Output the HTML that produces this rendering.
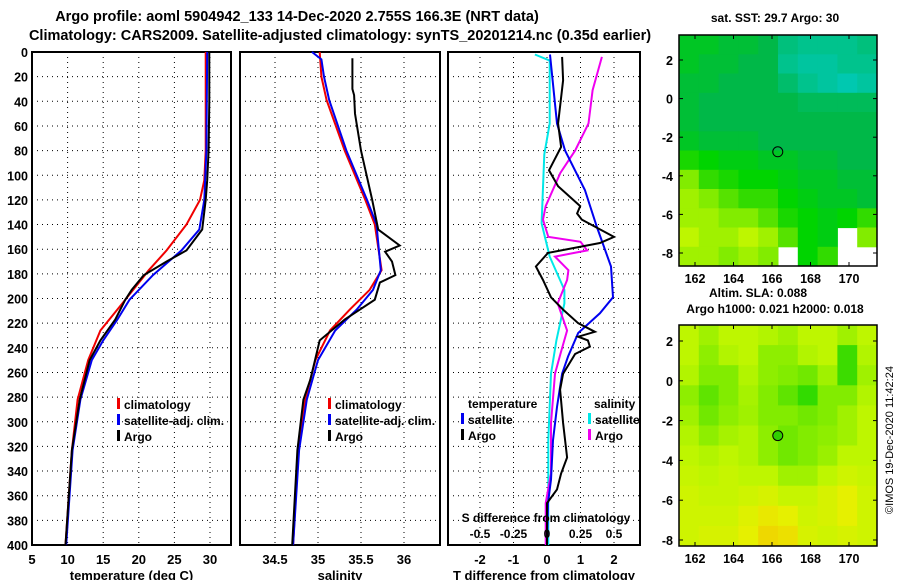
<!DOCTYPE html>
<html><head><meta charset="utf-8">
<style>
html,body{margin:0;padding:0;background:#fff;}
svg{display:block;font-family:"Liberation Sans",sans-serif;font-weight:bold;}
</style></head>
<body>
<svg id="chart" width="900" height="580" viewBox="0 0 900 580" xmlns="http://www.w3.org/2000/svg">
<text x="297" y="21" font-size="14.5" text-anchor="middle">Argo profile: aoml 5904942_133 14-Dec-2020 2.755S 166.3E (NRT data)</text>
<text x="340" y="40" font-size="14.5" text-anchor="middle">Climatology: CARS2009. Satellite-adjusted climatology: synTS_20201214.nc (0.35d earlier)</text>
<text x="775" y="22" font-size="12" text-anchor="middle">sat. SST: 29.7 Argo: 30</text>
<text x="758" y="297" font-size="12" text-anchor="middle">Altim. SLA: 0.088</text>
<text x="775" y="313" font-size="12" text-anchor="middle">Argo h1000: 0.021 h2000: 0.018</text>
<text x="0" y="0" font-size="11" font-weight="normal" text-anchor="middle" transform="translate(893,440) rotate(-90)">©IMOS 19-Dec-2020 11:42:24</text>
<g id="g"></g>
</svg>
<script>
// ---- data ----
const depthTicks=[0,20,40,60,80,100,120,140,160,180,200,220,240,260,280,300,320,340,360,380,400];
const tempTicks=[5,10,15,20,25,30];
const salTicks=[34.5,35,35.5,36];
const tdiffTicks=[-2,-1,0,1,2];
const sdiffTicks=[-0.5,-0.25,0,0.25,0.5];
const sdiffTickLabels=["-0.5","-0.25","0","0.25","0.5"];

const climTDepth=[0,80,104,120,140,161,177,201,226,250,282,323,400];
const climTVal=[29.4,29.4,29.2,28.6,26.7,23.9,21.4,18.1,14.6,12.9,11.4,10.6,9.7];
const satTDepth=[0,80,120,144,161,181,201,217,234,250,282,323,400];
const satTVal=[29.6,29.5,29.2,28.5,26,22,18.7,17,15,13.4,11.8,10.7,9.8];
const argoTDepth=[0,40,80,104,120,144,161,170,181,193,201,217,234,250,282,323,400];
const argoTVal=[29.9,29.9,29.8,29.6,29.4,28.9,26.7,23.9,20.7,19,18.1,16.7,14.6,13.1,11.7,10.6,9.7];

const climSDepth=[0,20,39,80,120,140,177,193,209,226,250,282,323,400];
const climSVal=[35.02,35.04,35.10,35.31,35.55,35.66,35.74,35.60,35.37,35.14,34.97,34.85,34.77,34.71];
const satSDepth=[0,6,20,39,80,120,140,177,193,209,226,250,282,323,400];
const satSVal=[34.93,35.04,35.07,35.13,35.33,35.57,35.68,35.73,35.64,35.45,35.2,35.0,34.87,34.78,34.71];
const argoSDepth=[5,30,35,50,80,120,144,157,162,170,181,187,201,217,234,266,282,323,400];
const argoSVal=[35.40,35.40,35.42,35.43,35.50,35.63,35.70,35.95,35.78,35.86,35.90,35.72,35.66,35.31,35.02,34.91,34.83,34.76,34.70];

const argoTdDepth=[4,23,58,77,96,109,125,131,136,150,155,163,174,185,199,209,220,227,231,234,239,245,261,274,301,329,342,355,366,400];
const argoTdVal=[0.45,0.48,0.33,0.42,0.06,0.33,0.99,0.90,1.04,2.0,1.58,0.03,-0.33,-0.12,0.12,0.48,0.93,1.43,0.93,1.22,1.28,0.84,0.48,0.39,0.48,0.60,0.42,0.30,0,0];
const satTdDepth=[2,58,80,112,142,174,199,212,228,247,261,288,315,347,366,400];
const satTdVal=[0.09,0.3,0.54,1.13,1.49,1.91,1.97,1.58,0.93,0.63,0.45,0.30,0.18,0.12,0.03,0];
const argoSdDepth=[4,31,58,80,98,125,136,150,154,161,166,177,185,204,226,245,261,301,342,366,400];
const argoSdVal=[0.41,0.34,0.31,0.21,0.10,-0.01,-0.03,0.01,0.25,0.30,0.06,0.16,0.15,0.08,0.15,0.10,0.06,0.03,0.03,-0.01,-0.01];
const satSdDepth=[2,7,58,83,139,166,193,204,234,261,315,400];
const satSdVal=[-0.09,0.02,0.02,-0.02,-0.04,0.02,0.13,0.13,0.07,0.03,0.01,0.01];

const lonTicks=[162,164,166,168,170];
const latTicks=[2,0,-2,-4,-6,-8];
const floatLon=166.3, floatLat=-2.755;
const sstGrid=[
[.4,.4,.35,.35,.3,.15,.1,.1,.1,.15],
[.4,.35,.35,.3,.3,.1,.05,.05,.1,.1],
[.35,.35,.3,.3,.3,.2,.1,.05,0,.05],
[.35,.3,.3,.3,.3,.3,.25,.25,.25,.25],
[.35,.3,.3,.3,.3,.3,.3,.3,.3,.3],
[.4,.35,.35,.35,.3,.3,.3,.3,.3,.3],
[.55,.5,.45,.45,.4,.4,.35,.35,.3,.3],
[.7,.6,.55,.5,.5,.45,.4,.4,.35,.35],
[.75,.7,.65,.6,.6,.5,.45,.4,.4,.35],
[.75,.75,.7,.7,.65,.55,.5,.45,.5,.6],
[.8,.75,.75,.8,.75,.65,.5,.45,-1,.7],
[.75,.75,.7,.75,.7,-1,.5,.6,-1,-1]];
const slaGrid=[
[.8,.75,.8,.8,.78,.75,.8,.8,.75,.8],
[.8,.72,.78,.8,.72,.72,.78,.8,.62,.78],
[.78,.7,.7,.78,.72,.7,.68,.75,.62,.75],
[.72,.66,.7,.76,.7,.66,.6,.7,.7,.78],
[.75,.68,.72,.75,.7,.7,.68,.7,.75,.8],
[.78,.72,.76,.78,.72,.68,.7,.72,.75,.8],
[.8,.78,.8,.78,.72,.68,.7,.74,.8,.8],
[.82,.8,.82,.8,.8,.75,.75,.8,.84,.82],
[.84,.82,.82,.84,.86,.82,.82,.86,.9,.84],
[.84,.84,.84,.88,.92,.9,.84,.86,.9,.84],
[.84,.86,.86,.9,.96,.94,.86,.84,.86,.84]];

// ---- rendering ----
const NS="http://www.w3.org/2000/svg";
const G=document.getElementById('g');
function el(tag,attrs,parent){const e=document.createElementNS(NS,tag);for(const k in attrs)e.setAttribute(k,attrs[k]);(parent||G).appendChild(e);return e;}
function txt(x,y,s,size,anchor,name,fill){const t=el('text',{x:x,y:y,'font-size':size,'text-anchor':anchor||'middle',fill:fill||'#000'});t.textContent=s;


return t;}

const TOP=52,BOT=545;
const yD=d=>TOP+(d/400)*(BOT-TOP);

function panel(name,x0,x1,xs,xticks,xlabels,xtitle){
  const fr=el('rect',{x:x0,y:TOP,width:x1-x0,height:BOT-TOP,fill:'#fff',stroke:'#000','stroke-width':2});
  
  
  depthTicks.forEach(d=>{if(d>0&&d<400){const l=el('line',{x1:x0,x2:x1,y1:yD(d),y2:yD(d),stroke:'#000','stroke-dasharray':'1 4'});
    
    }});
  xticks.forEach((v,i)=>{const x=xs(v);
    if(x>x0+2&&x<x1-2){const l=el('line',{x1:x,x2:x,y1:TOP,y2:BOT,stroke:'#000','stroke-dasharray':'1 4'});
    
    }
    txt(x,564,xlabels[i],13,'middle',name+'-x-tick-label');});
  txt((x0+x1)/2,580,xtitle,13,'middle',name+'-x-axis-title');
}
function line(name,xs,dep,val,color){
  const pts=dep.map((d,i)=>xs(val[i]).toFixed(1)+','+yD(d).toFixed(1)).join(' ');
  const p=el('polyline',{points:pts,fill:'none',stroke:color,'stroke-width':2});
  
  
}
function legend(name,x,y,color,label){
  const r=el('rect',{x:x,y:y-11,width:3,height:11,fill:color});
  
  
  txt(x+7,y,label,12,'start',name+'-label');
}

// depth labels
depthTicks.forEach(d=>txt(28,yD(d)+5,String(d),12.5,'end','depth-tick-label'));

// panel 1
const xT=v=>32+(v-5)*7.12;
panel('temp-panel',32,231,xT,tempTicks,tempTicks.map(String),'temperature (deg C)');
line('temp-climatology',xT,climTDepth,climTVal,'#f00000');
line('temp-satellite-adj',xT,satTDepth,satTVal,'#0000f0');
line('temp-argo',xT,argoTDepth,argoTVal,'#000');
legend('temp-legend-climatology',117,409,'#f00000','climatology');
legend('temp-legend-satellite',117,425,'#0000f0','satellite-adj. clim.');
legend('temp-legend-argo',117,441,'#000','Argo');

// panel 2
const xS=v=>275+(v-34.5)*86;
panel('sal-panel',240,440,xS,salTicks,salTicks.map(String),'salinity');
line('sal-climatology',xS,climSDepth,climSVal,'#f00000');
line('sal-satellite-adj',xS,satSDepth,satSVal,'#0000f0');
line('sal-argo',xS,argoSDepth,argoSVal,'#000');
legend('sal-legend-climatology',328,409,'#f00000','climatology');
legend('sal-legend-satellite',328,425,'#0000f0','satellite-adj. clim.');
legend('sal-legend-argo',328,441,'#000','Argo');

// panel 3
const xTd=v=>547+v*33.5;
const xSd=v=>547+v*134;
panel('diff-panel',448,640,xTd,tdiffTicks,tdiffTicks.map(String),'T difference from climatology');
line('sdiff-satellite',xSd,satSdDepth,satSdVal,'#00e8e8');
line('sdiff-argo',xSd,argoSdDepth,argoSdVal,'#f000f0');
line('tdiff-satellite',xTd,satTdDepth,satTdVal,'#0000f0');
line('tdiff-argo',xTd,argoTdDepth,argoTdVal,'#000');
txt(468,408,'temperature',12,'start','diff-legend-temperature-heading');
legend('diff-legend-t-satellite',461,424,'#0000f0','satellite');
legend('diff-legend-t-argo',461,440,'#000','Argo');
txt(594,408,'salinity',12,'start','diff-legend-salinity-heading');
legend('diff-legend-s-satellite',588,424,'#00e8e8','satellite');
legend('diff-legend-s-argo',588,440,'#f000f0','Argo');
txt(546,522,'S difference from climatology',12,'middle','sdiff-axis-title');
sdiffTicks.forEach((v,i)=>txt(xSd(v),538,sdiffTickLabels[i],12,'middle','sdiff-tick-label'));

// maps
const stops=[[0,[0,200,176]],[0.3,[0,184,72]],[0.5,[0,212,0]],[0.62,[60,220,0]],[0.7,[130,236,0]],[0.8,[190,246,0]],[0.9,[230,240,0]],[1,[244,200,0]]];
function cmap(v){for(let i=1;i<stops.length;i++){if(v<=stops[i][0]){const a=stops[i-1],b=stops[i];const t=(v-a[0])/(b[0]-a[0]);
 const c=a[1].map((c0,k)=>Math.round(c0+(b[1][k]-c0)*t));return 'rgb('+c.join(',')+')';}}return 'rgb(244,200,0)';}
function map(name,x0,y0,w,h,lat2y,lat8y,grid,filledDot){
  const lonX=l=>695+(l-162)*19.25;
  const latY=a=>lat2y+(2-a)*(lat8y-lat2y)/10;
  const rows=grid.length,cols=grid[0].length,cw=w/cols,ch=h/rows;
  el('rect',{x:x0,y:y0,width:w,height:h,fill:'#fff'});
  grid.forEach((row,r)=>row.forEach((v,c)=>{if(v>=0){const cell=el('rect',{x:(x0+c*cw).toFixed(1),y:(y0+r*ch).toFixed(1),width:(cw+0.5).toFixed(1),height:(ch+0.5).toFixed(1),fill:cmap(v)});
    
    }}));
  const fr=el('rect',{x:x0,y:y0,width:w,height:h,fill:'none',stroke:'#000','stroke-width':1.5});
  
  
  lonTicks.forEach(l=>{const x=lonX(l);el('line',{x1:x,x2:x,y1:y0,y2:y0+4,stroke:'#000'});el('line',{x1:x,x2:x,y1:y0+h,y2:y0+h-4,stroke:'#000'});
    txt(x,y0+h+17,String(l),12.5,'middle',name+'-lon-tick-label');});
  latTicks.forEach(a=>{const y=latY(a);el('line',{x1:x0,x2:x0+4,y1:y,y2:y,stroke:'#000'});el('line',{x1:x0+w,x2:x0+w-4,y1:y,y2:y,stroke:'#000'});
    txt(x0-6,y+5,String(a),12.5,'end',name+'-lat-tick-label');});
  const c=el('circle',{cx:lonX(floatLon),cy:latY(floatLat),r:5,fill:filledDot?'#30d000':'none',stroke:'#000','stroke-width':1});
  
  
}
map('sst-map',679,35,198,231,60,253,sstGrid,false);
map('sla-map',679,325,198,221,341,540,slaGrid,true);
</script>
</body></html>
